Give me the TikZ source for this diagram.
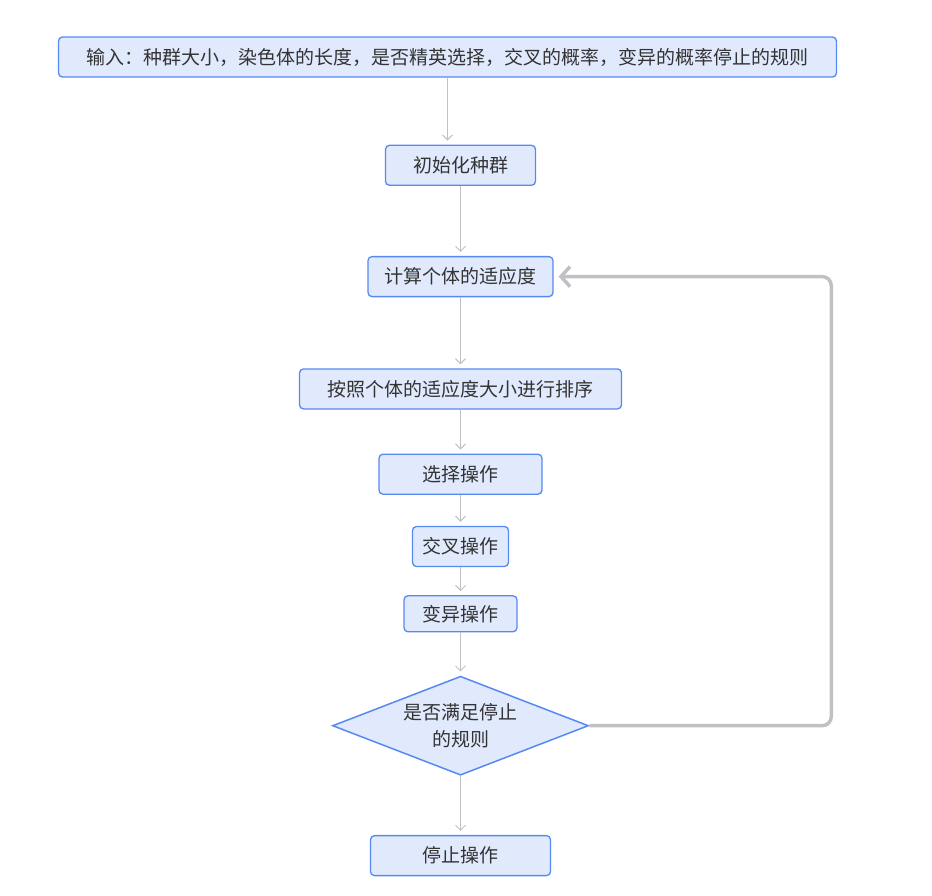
\documentclass[tikz,border=0pt]{standalone}
\usepackage{fontspec}
\setmainfont{Noto Sans CJK SC}
\usepackage{xcolor}
\usetikzlibrary{arrows.meta,positioning,shapes.geometric}

\definecolor{boxfill}{RGB}{225,234,253}
\definecolor{boxline}{RGB}{86,137,241}
\definecolor{txtgray}{RGB}{51,51,51}
\definecolor{arrgray}{RGB}{192,193,197}

\begin{document}
\begin{tikzpicture}[
  x=1pt, y=1pt,
  font=\fontsize{19}{24}\selectfont, text=txtgray,
  stepbox/.style={draw=boxline, fill=boxfill, line width=1.3pt, rounded corners=4pt, minimum height=40pt, inner sep=2pt, align=center},
  decbox/.style={diamond, aspect=2.58, draw=boxline, fill=boxfill, line width=1.5pt, minimum width=256pt, minimum height=99pt, inner sep=0pt, align=center},
  arr/.style={-{Straight Barb[length=5pt,width=10pt]}, draw=arrgray, line width=1pt, shorten >=4pt},
  looparr/.style={-{Straight Barb[length=9pt,width=20pt]}, draw=arrgray, line width=3.5pt, rounded corners=9pt, shorten >=5pt}
]
\useasboundingbox (0,0) rectangle (932,-895);

\node[stepbox, minimum width=778pt] (in) at (447.5,-57) {输入：种群大小，染色体的长度，是否精英选择，交叉的概率，变异的概率停止的规则};
\node[stepbox, minimum width=150pt, below=67pt of in, xshift=13pt] (init) {初始化种群};
\node[stepbox, minimum width=185pt, below=70pt of init] (fit) {计算个体的适应度};
\node[stepbox, minimum width=322pt, below=71pt of fit] (sort) {按照个体的适应度大小进行排序};
\node[stepbox, minimum width=163pt, below=44pt of sort] (sel) {选择操作};
\node[stepbox, minimum width=96pt, below=31pt of sel] (cross) {交叉操作};
\node[stepbox, minimum width=113pt, minimum height=36pt, below=28pt of cross] (mut) {变异操作};
\node[decbox, below=43pt of mut] (stopq) {是否满足停止\\[3pt]的规则};
\node[stepbox, minimum width=180pt, below=59pt of stopq] (stop) {停止操作};

\draw[arr] (in.south) -- (in.south |- init.north);
\draw[arr] (init) -- (fit);
\draw[arr] (fit) -- (sort);
\draw[arr] (sort) -- (sel);
\draw[arr] (sel) -- (cross);
\draw[arr] (cross) -- (mut);
\draw[arr] (mut) -- (stopq);
\draw[arr] (stopq) -- (stop);
\draw[looparr] (stopq.east) -- ++(242,0) |- (fit.east);
\end{tikzpicture}
\end{document}
